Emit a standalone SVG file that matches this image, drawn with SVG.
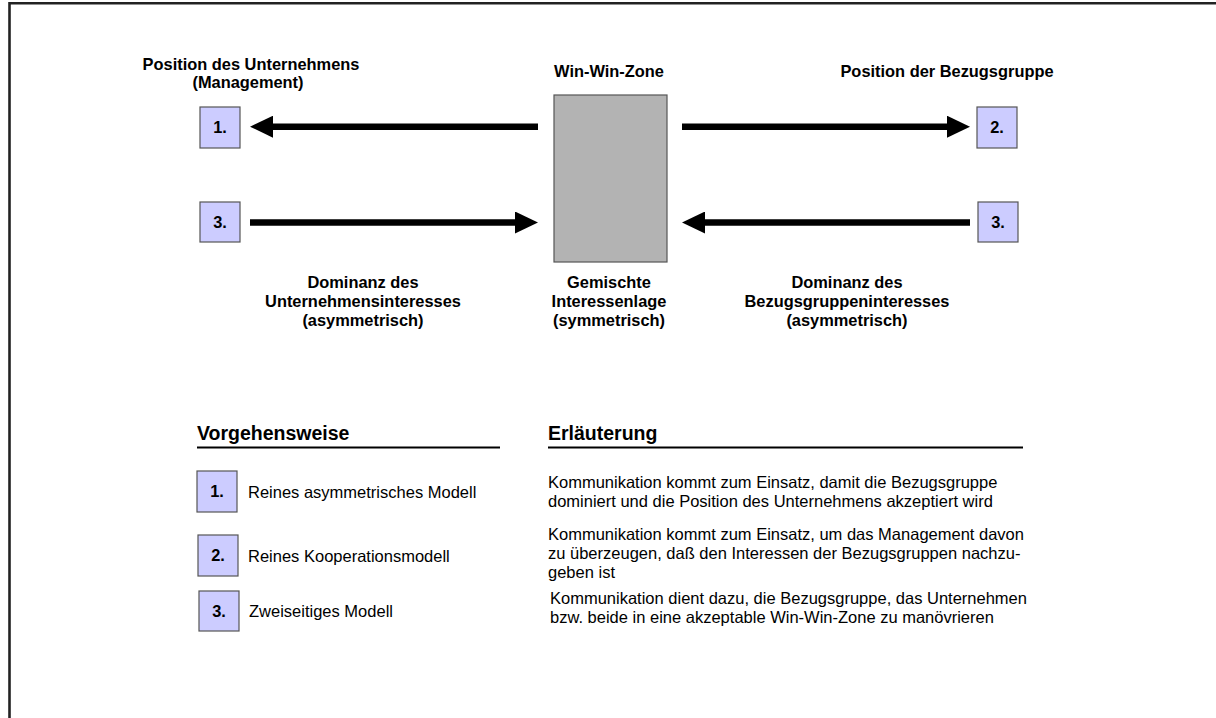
<svg xmlns="http://www.w3.org/2000/svg" width="1216" height="718" viewBox="0 0 1216 718">
  <defs>
    <style>
      text { font-family: "Liberation Sans", Arial, Helvetica, sans-serif; fill: #000; }
      .b { font-weight: bold; font-size: 16.4px; }
      .mid { text-anchor: middle; }
      .h { font-weight: bold; font-size: 19.5px; }
      .t { font-size: 16.5px; }
      .num { fill: #ccccff; stroke: #555; stroke-width: 1.2; }
      .zone { fill: #b3b3b3; stroke: #555; stroke-width: 1.2; }
      .arrow { stroke: #000; stroke-width: 6.5; fill: none; marker-end: url(#head); }
      .rule { stroke: #000; stroke-width: 2; }
    </style>
    <marker id="head" viewBox="0 -11 23 22" markerWidth="23" markerHeight="22" refX="0" refY="0" orient="auto" markerUnits="userSpaceOnUse">
      <path d="M0,-11 L23,0 L0,11 Z" fill="#000"/>
    </marker>
  </defs>

  <rect width="1216" height="718" fill="#fff"/>
  <!-- frame -->
  <path d="M9.5,718 V3.2 H1216" fill="none" stroke="#222" stroke-width="2.6"/>

  <!-- upper part: positions and win-win zone -->
  <g id="company-title">
    <text class="b mid" x="251" y="70">Position des Unternehmens</text>
    <text class="b mid" x="248" y="88">(Management)</text>
  </g>
  <g id="zone-title">
    <text class="b mid" x="609" y="77">Win-Win-Zone</text>
  </g>
  <g id="group-title">
    <text class="b mid" x="947" y="77">Position der Bezugsgruppe</text>
  </g>

  <g id="node-1-left">
    <rect class="num" x="200" y="107" width="40" height="41"/>
    <text class="b mid" x="220" y="133">1.</text>
  </g>
  <g id="node-3-left">
    <rect class="num" x="200" y="202" width="40" height="40"/>
    <text class="b mid" x="220" y="228">3.</text>
  </g>
  <g id="node-2-right">
    <rect class="num" x="977" y="107" width="40" height="41"/>
    <text class="b mid" x="997" y="133">2.</text>
  </g>
  <g id="node-3-right">
    <rect class="num" x="978" y="202" width="40" height="40"/>
    <text class="b mid" x="998" y="228">3.</text>
  </g>
  <g id="win-win-zone">
    <rect class="zone" x="554" y="95" width="113" height="167"/>
  </g>

  <g id="connectors">
    <line class="arrow" x1="538" y1="126.7" x2="273" y2="126.7"/>
    <line class="arrow" x1="682" y1="126.7" x2="947" y2="126.7"/>
    <line class="arrow" x1="250" y1="222.5" x2="515" y2="222.5"/>
    <line class="arrow" x1="970" y1="222.5" x2="705" y2="222.5"/>
  </g>

  <g id="label-left">
    <text class="b mid" x="363" y="288">Dominanz des</text>
    <text class="b mid" x="363" y="307">Unternehmensinteresses</text>
    <text class="b mid" x="363" y="326">(asymmetrisch)</text>
  </g>
  <g id="label-middle">
    <text class="b mid" x="609" y="288">Gemischte</text>
    <text class="b mid" x="609" y="307">Interessenlage</text>
    <text class="b mid" x="609" y="326">(symmetrisch)</text>
  </g>
  <g id="label-right">
    <text class="b mid" x="847" y="288">Dominanz des</text>
    <text class="b mid" x="847" y="307">Bezugsgruppeninteresses</text>
    <text class="b mid" x="847" y="326">(asymmetrisch)</text>
  </g>

  <!-- lower part: legend table -->
  <g id="heading-procedure">
    <text class="h" x="197" y="440">Vorgehensweise</text>
    <line class="rule" x1="197" y1="447.5" x2="500" y2="447.5"/>
  </g>
  <g id="heading-explanation">
    <text class="h" x="548" y="440">Erläuterung</text>
    <line class="rule" x1="548" y1="447.5" x2="1023" y2="447.5"/>
  </g>

  <g id="legend-1">
    <rect class="num" x="197" y="471" width="40" height="41"/>
    <text class="b mid" x="217" y="497">1.</text>
    <text class="t" x="248" y="498">Reines asymmetrisches Modell</text>
  </g>
  <g id="legend-2">
    <rect class="num" x="198" y="535" width="40" height="41"/>
    <text class="b mid" x="218" y="561">2.</text>
    <text class="t" x="248" y="562">Reines Kooperationsmodell</text>
  </g>
  <g id="legend-3">
    <rect class="num" x="199" y="591" width="40" height="40"/>
    <text class="b mid" x="219" y="617">3.</text>
    <text class="t" x="249" y="617">Zweiseitiges Modell</text>
  </g>

  <g id="explanation-1">
    <text class="t" x="548" y="488">Kommunikation kommt zum Einsatz, damit die Bezugsgruppe</text>
    <text class="t" x="548" y="507">dominiert und die Position des Unternehmens akzeptiert wird</text>
  </g>
  <g id="explanation-2">
    <text class="t" x="548" y="540">Kommunikation kommt zum Einsatz, um das Management davon</text>
    <text class="t" x="548" y="559">zu überzeugen, daß den Interessen der Bezugsgruppen nachzu-</text>
    <text class="t" x="548" y="578">geben ist</text>
  </g>
  <g id="explanation-3">
    <text class="t" x="550" y="604">Kommunikation dient dazu, die Bezugsgruppe, das Unternehmen</text>
    <text class="t" x="550" y="623">bzw. beide in eine akzeptable Win-Win-Zone zu manövrieren</text>
  </g>
</svg>
